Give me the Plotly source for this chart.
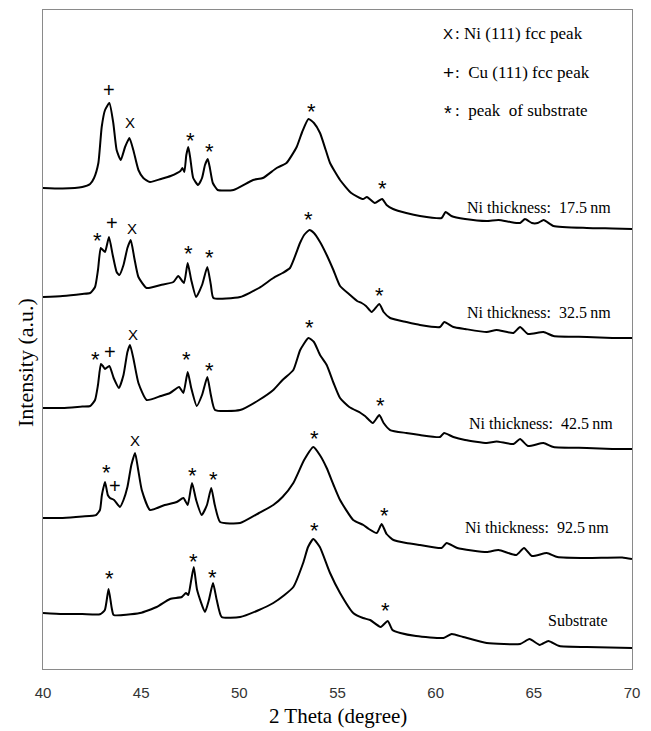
import plotly.graph_objects as go

# ---------------- data (2-theta in degree, intensity in a.u., stacked) ----------------
tt_175 = [40.0, 41.0, 42.0, 42.4, 42.6, 42.82, 42.99, 43.16, 43.38, 43.58, 43.75, 43.96, 44.18, 44.4,
          44.6, 44.86, 45.11, 45.45, 46.0, 46.5, 47.0, 47.1, 47.2, 47.3, 47.4, 47.5, 47.65, 47.9, 48.1,
          48.25, 48.39, 48.5, 48.65, 48.9, 49.7, 50.7, 51.2, 51.9, 52.4, 52.92, 53.2, 53.52, 53.8, 54.11,
          54.4, 54.62, 55.13, 55.7, 56.3, 56.5, 56.9, 57.27, 57.5, 57.83, 58.5, 59.2, 60.3, 60.5, 60.8,
          61.5, 62.6, 63.2, 63.8, 64.3, 64.55, 64.9, 65.2, 65.5, 66.0, 67.7, 69.0, 70.0]
i_175 = [481, 480.5, 482, 485, 491, 506, 542, 559, 566, 546, 519, 509, 522, 531,
         519, 499, 491, 487, 490, 493, 498, 501, 497, 514, 522, 511, 491, 484, 491,
         504, 510, 501, 486, 479, 479, 489, 491, 501, 506, 522, 537, 550, 546, 536,
         519, 506, 489, 476, 470, 472, 466, 470, 464, 460, 456, 453, 451, 457, 453,
         450, 448, 449, 447, 446, 450, 446, 446, 449, 443, 441, 440.5, 440]

tt_325 = [40.0, 41.0, 42.0, 42.4, 42.65, 42.8, 42.94, 43.05, 43.16, 43.36, 43.55, 43.75, 43.89, 44.1,
          44.3, 44.47, 44.65, 44.86, 45.28, 46.0, 46.64, 46.89, 47.18, 47.37, 47.55, 47.8, 48.1, 48.37,
          48.55, 48.68, 50.04, 51.0, 51.73, 52.2, 52.58, 53.09, 53.3, 53.57, 53.8, 54.11, 54.45, 54.79,
          55.13, 55.64, 56.0, 56.23, 56.45, 56.74, 57.13, 57.35, 57.68, 58.5, 59.2, 60.22, 60.44, 60.9,
          61.5, 62.6, 63.1, 63.96, 64.3, 64.7, 65.49, 66.0, 67.7, 69.0, 70.0]
i_325 = [372, 373, 375, 376, 382, 399, 421, 419, 417, 432, 414, 397, 394, 404,
         421, 429, 411, 392, 381, 384, 387, 393, 386, 406, 389, 372, 384, 402,
         384, 371, 372, 381, 391, 396, 401, 426, 434, 439, 436, 427, 414, 399,
         383, 374, 368, 366, 363, 357, 365, 357, 351, 347, 344, 342, 347, 342,
         340, 337, 339, 336, 342, 335, 337, 333, 332, 331, 331]

tt_425 = [40.0, 41.0, 42.0, 42.4, 42.65, 42.8, 42.95, 43.05, 43.16, 43.38, 43.6, 43.87, 44.1, 44.3,
          44.43, 44.6, 44.86, 45.28, 46.0, 46.47, 46.93, 47.15, 47.37, 47.55, 47.83, 48.1, 48.37, 48.55,
          48.76, 50.04, 51.0, 51.73, 52.2, 52.75, 53.1, 53.52, 53.8, 54.11, 54.45, 54.8, 55.13, 55.6,
          56.18, 56.4, 56.8, 57.13, 57.35, 57.68, 58.5, 59.2, 60.22, 60.43, 60.9, 61.5, 62.6, 63.1,
          63.96, 64.3, 64.7, 65.49, 66.0, 67.7, 69.0, 70.0]
i_425 = [261, 261, 262.5, 263, 269, 284, 305, 303, 300, 303, 291, 281, 294, 317,
         324, 311, 286, 269, 273, 276, 282, 276, 297, 281, 263, 274, 292, 274,
         259, 259, 269, 279, 289, 299, 319, 331, 327, 314, 304, 286, 271, 262,
         256, 253, 246, 254, 246, 239, 236, 234, 232, 236, 232, 229, 226, 227.5,
         225, 230, 223, 226, 222, 221, 220, 220]

tt_925 = [40.0, 41.0, 42.0, 42.7, 42.9, 43.0, 43.16, 43.3, 43.41, 43.62, 43.92, 44.1, 44.3, 44.5,
          44.69, 44.85, 45.03, 45.45, 46.2, 46.81, 47.15, 47.37, 47.59, 47.8, 48.08, 48.35, 48.57, 48.75,
          49.02, 50.04, 51.0, 51.73, 52.2, 52.75, 53.3, 53.77, 54.1, 54.45, 54.8, 55.13, 55.8, 56.32,
          56.6, 57.0, 57.25, 57.5, 57.85, 58.5, 59.2, 60.3, 60.56, 61.1, 62.6, 63.2, 64.1, 64.5,
          64.9, 65.66, 66.2, 67.7, 69.5, 70.0]
i_925 = [151, 151, 152.5, 154, 159, 174, 187, 174, 171, 169, 162, 169, 182, 204,
         216, 199, 179, 159, 164, 167, 171, 164, 186, 169, 154, 164, 181, 164,
         147, 146, 156, 164, 172, 186, 209, 222, 214, 201, 184, 169, 149, 144,
         140, 136, 145, 135, 129, 126, 124, 121, 126, 121, 117, 119, 114, 121,
         113, 116, 112, 111, 111.5, 110]

tt_sub = [40.0, 41.0, 42.0, 42.9, 43.15, 43.34, 43.5, 43.6, 44.94, 45.79, 46.47, 47.07, 47.28, 47.4,
          47.55, 47.68, 47.85, 48.25, 48.45, 48.66, 48.85, 49.1, 50.04, 51.0, 51.73, 52.3, 52.75, 53.25,
          53.5, 53.77, 54.1, 54.62, 55.13, 55.8, 56.3, 56.66, 57.2, 57.56, 57.8, 58.2, 59.0, 60.4,
          60.82, 61.4, 62.6, 64.3, 64.78, 65.3, 65.74, 66.3, 67.7, 70.0]
i_sub = [56, 55, 55, 54.7, 59, 80, 61, 54, 56, 62, 70, 72, 76, 74,
         89, 102, 79, 57, 69, 86, 69, 52, 52, 59, 66, 74, 82, 106,
         122, 130, 122, 96, 76, 56, 51, 49, 42, 48, 39, 36, 33, 31,
         35, 32, 26, 25, 30, 24, 28, 23, 22, 21]

sample_names = ["Ni thickness:\u00a0 17.5\u2009nm", "Ni thickness:\u00a0 32.5\u2009nm",
                "Ni thickness:\u00a0 42.5\u2009nm", "Ni thickness:\u00a0 92.5\u2009nm", "Substrate"]
label_pos = [(69.04, 462), (69.04, 357), (69.14, 246), (68.94, 142), (68.88, 49)]

# peak markers: (symbol, 2-theta, intensity)
peak_marks = [
    ("+", 43.38, 579), ("X", 44.43, 547), ("*", 47.49, 532), ("*", 48.46, 521), ("*", 53.65, 561), ("*", 57.27, 484),
    ("*", 42.77, 432), ("+", 43.5, 446), ("X", 44.55, 441), ("*", 47.4, 419), ("*", 48.46, 415), ("*", 53.54, 453), ("*", 57.12, 377),
    ("*", 42.65, 313), ("+", 43.41, 317), ("X", 44.6, 335), ("*", 47.32, 313), ("*", 48.46, 302), ("*", 53.57, 345), ("*", 57.17, 267),
    ("*", 43.24, 200), ("+", 43.67, 183), ("X", 44.69, 229), ("*", 47.59, 197), ("*", 48.68, 193), ("*", 53.81, 234), ("*", 57.39, 157),
    ("*", 43.38, 94), ("*", 47.66, 111), ("*", 48.61, 95), ("*", 53.81, 142), ("*", 57.42, 62),
]

key_symbols = ["X", "+", "*"]
key_texts = [": Ni (111) fcc peak", ":\u00a0 Cu (111) fcc peak", ":\u00a0 peak\u00a0 of substrate"]

x_ticks = [40, 45, 50, 55, 60, 65, 70]

# ---------------- figure ----------------
SERIF = "Liberation Serif, Times New Roman, serif"
SANS = "Liberation Sans, Arial, sans-serif"

fig = go.Figure()
for tt, ii in [(tt_175, i_175), (tt_325, i_325), (tt_425, i_425), (tt_925, i_925), (tt_sub, i_sub)]:
    fig.add_trace(go.Scatter(x=tt, y=ii, mode="lines",
                             line=dict(color="black", width=2, shape="spline", smoothing=0.5),
                             showlegend=False, hoverinfo="skip"))

ann = []
for sym, x, y in peak_marks:
    size = {"+": 20, "X": 15, "*": 22}[sym]
    shift = {"+": 0, "X": 0, "*": -3}[sym]
    ann.append(dict(x=x, y=y, xref="x", yref="y", text=sym, showarrow=False,
                    font=dict(family=SANS, size=size, color="black"),
                    xanchor="center", yanchor="middle", yshift=shift))

for name, (x, y) in zip(sample_names, label_pos):
    ann.append(dict(x=x, y=y, xref="x", yref="y", text=name, showarrow=False,
                    font=dict(family=SERIF, size=16, color="black"),
                    xanchor="right", yanchor="middle"))

key_y = [636, 597, 559]
for sym, txt, y in zip(key_symbols, key_texts, key_y):
    size = {"+": 19, "X": 15, "*": 20}[sym]
    shift = {"+": 0, "X": 0, "*": -3}[sym]
    ann.append(dict(x=60.65, y=y, xref="x", yref="y", text=sym, showarrow=False,
                    font=dict(family=SANS, size=size, color="black"),
                    xanchor="center", yanchor="middle", yshift=shift))
    ann.append(dict(x=60.86, y=y, xref="x", yref="y", text=txt, showarrow=False,
                    font=dict(family=SERIF, size=17, color="black"),
                    xanchor="left", yanchor="middle"))

ann.append(dict(x=0.5, y=0, xref="paper", yref="paper", text="2 Theta (degree)", showarrow=False,
                font=dict(family=SERIF, size=21, color="black"), borderpad=0,
                xanchor="center", yanchor="middle", yshift=-47))
ann.append(dict(x=0, y=0.4643, xref="paper", yref="paper", text="Intensity (a.u.)", showarrow=False,
                font=dict(family=SERIF, size=22, color="black"), textangle=-90,
                xanchor="center", yanchor="middle", xshift=-18))

fig.update_layout(
    width=651, height=731,
    margin=dict(l=43, r=19, t=10, b=62),
    paper_bgcolor="white", plot_bgcolor="white",
    annotations=ann,
    xaxis=dict(range=[40, 70], tickvals=x_ticks, ticktext=[str(v) for v in x_ticks],
               showgrid=False, zeroline=False, showline=True, mirror=True,
               linecolor="#8a8a8a", linewidth=1, ticks="", ticklabelstandoff=10,
               tickfont=dict(family=SANS, size=15, color="#333333")),
    yaxis=dict(range=[0, 659], showgrid=False, zeroline=False, showline=True, mirror=True,
               linecolor="#8a8a8a", linewidth=1, showticklabels=False, ticks=""),
)

fig.write_html("out.html", config={"displayModeBar": False},
               post_script="document.body.style.margin='0';document.body.style.overflow='hidden';")
